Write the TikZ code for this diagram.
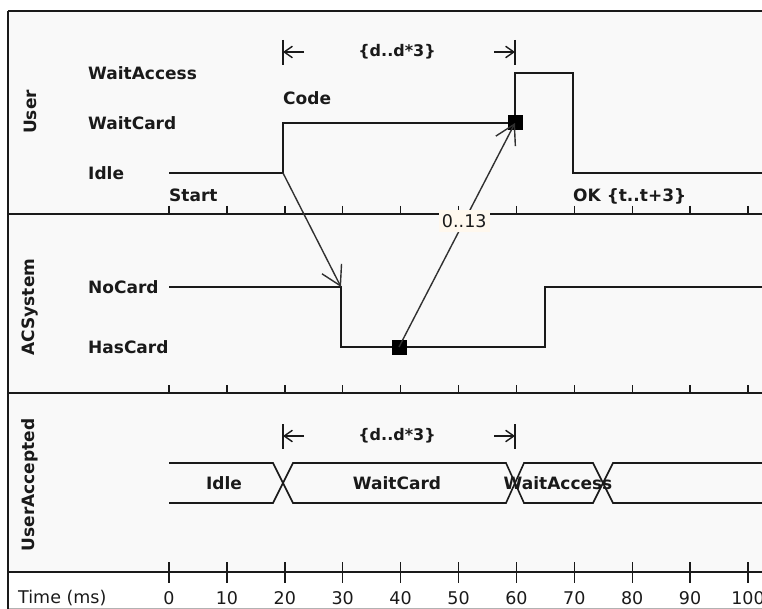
\documentclass[tikz,border=0pt]{standalone}
\usepackage{fontspec}
\setmainfont{DejaVu Sans}
\usetikzlibrary{arrows.meta}
\definecolor{lanebg}{RGB}{249,249,249}
\definecolor{labelbg}{RGB}{255,248,238}
\definecolor{ink}{RGB}{26,26,26}
\begin{document}
\begin{tikzpicture}[
    x=1pt, y=-1pt,
    statelbl/.style={
        anchor=west,
        inner sep=0pt,
        font=\fontsize{17}{20}\selectfont\bfseries,
        text=ink
    },
    lanename/.style={
        rotate=90,
        inner sep=0pt,
        font=\fontsize{17}{20}\selectfont\bfseries,
        text=ink
    },
    note/.style={
        inner sep=0pt,
        font=\fontsize{16}{19}\selectfont\bfseries,
        text=ink
    },
    ticklbl/.style={
        inner sep=0pt,
        font=\fontsize{17.5}{20}\selectfont,
        text=ink
    },
    frameline/.style={draw=ink, line width=1.6pt},
    tick/.style={draw=ink, line width=1.4pt},
    wave/.style={draw=ink, line width=1.6pt},
    msg/.style={-{Straight Barb[angle=60:22pt]}, draw=ink!90, line width=1.4pt},
    bound/.style={-{Straight Barb[angle=70:10pt]}, draw=ink, line width=1.4pt},
    event/.style={fill=black, minimum size=15pt, inner sep=0pt}
]
    \useasboundingbox (0,0) rectangle (762,609);

    % frame and lanes
    \fill[lanebg] (8,11) rectangle (762,572);
    \draw[black!30, line width=1pt] (8,608) -- (762,608);
    \foreach \y in {11,214,393,572}
        \draw[frameline] (8,\y) -- (762,\y);
    \draw[frameline] (8,11) -- (8,609);

    % time ruler
    \foreach \ms in {0,10,...,100} {
        \draw[tick] ({169+5.79*\ms},206) -- ++(0,8);
        \draw[tick] ({169+5.79*\ms},385) -- ++(0,8);
        \draw[tick] ({169+5.79*\ms},562) -- ++(0,21);
        \node[ticklbl] (t\ms) at ({169+5.79*\ms},598) {\ms};
    }
    \node[ticklbl, anchor=west] (timelbl) at (18,598) {Time (ms)};

    % lane names
    \node[lanename] (user) at (30,112) {User};
    \node[lanename] (acsystem) at (30,307) {ACSystem};
    \node[lanename] (useraccepted) at (30,485) {UserAccepted};

    % states
    \node[statelbl] (waitaccess) at (88,73) {WaitAccess};
    \node[statelbl] (waitcard) at (88,123) {WaitCard};
    \node[statelbl] (idle) at (88,173) {Idle};
    \node[statelbl] (nocard) at (88,287) {NoCard};
    \node[statelbl] (hascard) at (88,347) {HasCard};

    % User
    \draw[wave] (169,173) -- (283,173) coordinate (uleave) -- (283,123)
        -- (515,123) -- (515,73) -- (573,73) -- (573,173) -- (762,173);
    \node[statelbl] (code) at (283,98) {Code};
    \node[statelbl] (start) at (169,195) {Start};
    \node[statelbl] (ok) at (573,196) {OK \{t..t+3\}};

    % ACSystem
    \draw[wave] (169,287) -- (341,287) coordinate (anocard) -- (341,347)
        -- (545,347) -- (545,287) -- (762,287);

    % UserAccepted
    \draw[wave] (169,463) -- (273,463) -- (293,503) -- (506,503) -- (524,463)
        -- (593,463) -- (613,503) -- (762,503);
    \draw[wave] (169,503) -- (273,503) -- (293,463) -- (506,463) -- (524,503)
        -- (593,503) -- (613,463) -- (762,463);
    \node[statelbl, anchor=center] (vidle) at (224,483) {Idle};
    \node[statelbl, anchor=center] (vwaitcard) at (397,483) {WaitCard};
    \node[statelbl, anchor=center] (vwaitaccess) at (558,483) {WaitAccess};

    % duration constraints
    \foreach \y in {52,436} {
        \draw[tick] (283,\y-12) -- (283,\y+13);
        \draw[tick] (515,\y-12) -- (515,\y+13);
        \draw[bound] (304,\y) -- (283,\y);
        \draw[bound] (494,\y) -- (515,\y);
        \node[note] at (397,\y) {\{d..d*3\}};
    }

    % messages
    \node[event] (evhas) at (399,347) {};
    \node[event] (evcard) at (515,123) {};
    \draw[msg] (uleave) -- (anocard);
    \draw[msg] (evhas.center) -- node[pos=0.5625, ticklbl, fill=labelbg,
        inner xsep=3pt, inner ysep=4pt] (bound013) {0..13} (evcard.center);
\end{tikzpicture}
\end{document}
